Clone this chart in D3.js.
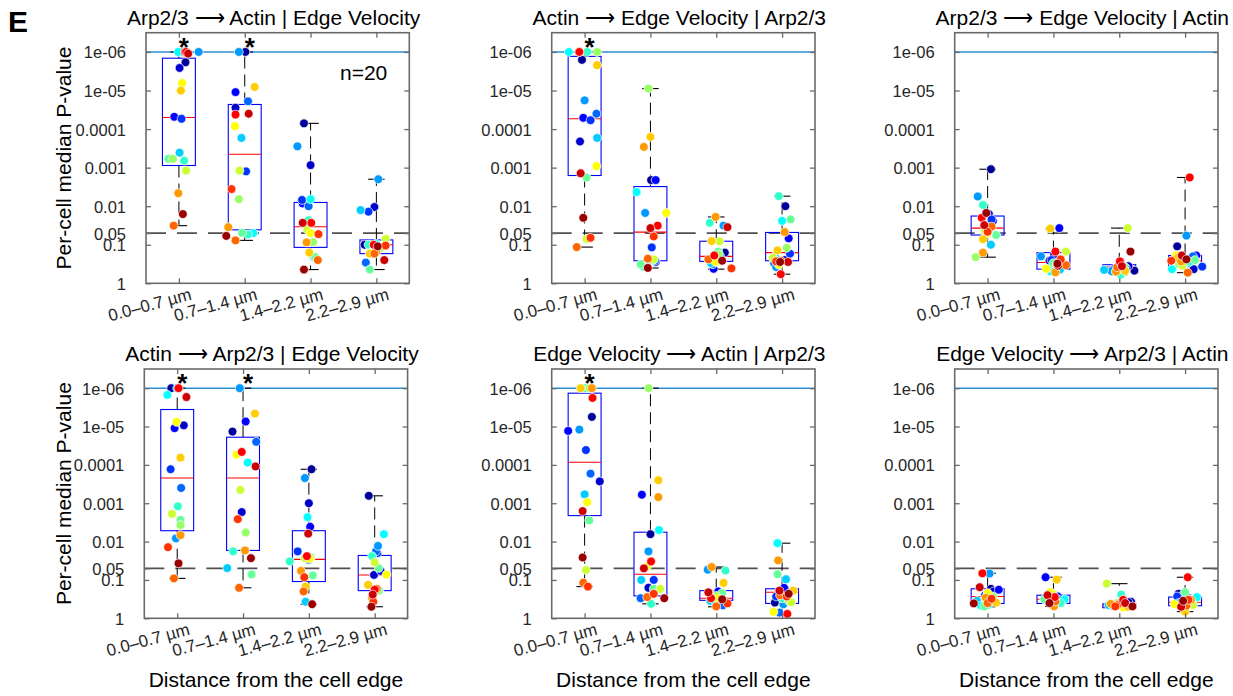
<!DOCTYPE html>
<html>
<head>
<meta charset="utf-8">
<script src="https://cdn.jsdelivr.net/npm/d3@7"></script>
<style>
  html, body { margin: 0; padding: 0; background: #fff; }
  svg { display: block; font-family: "Liberation Sans", Arial, Helvetica, sans-serif; }
</style>
</head>
<body>
<svg id="fig" width="1233" height="696"></svg>
<script>
// ---------- shared labels ----------
const categories = ["0.0\u20130.7 \u00b5m", "0.7\u20131.4 \u00b5m", "1.4\u20132.2 \u00b5m", "2.2\u20132.9 \u00b5m"];
const yTickValues = [1e-6, 1e-5, 1e-4, 1e-3, 0.01, 0.05, 0.1, 1];
const yTickLabels = ["1e-06", "1e-05", "0.0001", "0.001", "0.01", "0.05", "0.1", "1"];
const pFloor = 1e-6;          // p-values at or below this are plotted on the floor line
const alpha = 0.05;           // significance threshold
const nCells = 20;

// one colour per cell (jet, 20 levels)
const cellColors = ["#000099","#0000cc","#0000ff","#0033ff","#0066ff","#0099ff","#00ccff","#00ffff",
  "#33ffcc","#66ff99","#99ff66","#ccff33","#ffff00","#ffcc00","#ff9900","#ff6600","#ff3300",
  "#ff0000","#cc0000","#990000"];

// ---------- per-cell median p-values: [distance bin][cell 1..20] ----------
const pArpActinEV = [
  [1.85e-6,2.6e-6,4.8e-5,5.4e-5,1e-6,1e-6,4.1e-4,1e-6,6.6e-4,5.9e-4,5.9e-4,1.2e-3,6.4e-6,1.0e-5,4.6e-3,0.032,1e-6,1e-6,1.1e-6,0.016],
  [1e-6,2.8e-5,1.1e-5,1.25e-3,1.9e-5,1e-6,1.7e-4,0.05,0.054,0.049,6.6e-3,1.2e-3,8.4e-5,8.1e-6,0.035,0.077,3.6e-3,4.2e-5,4.0e-5,0.059],
  [7.1e-5,8.6e-4,8.5e-3,6.9e-3,0.010,2.8e-4,0.21,6.6e-3,0.023,0.21,0.086,0.040,0.050,0.16,0.087,0.25,0.053,0.027,0.027,0.44],
  [0.10,0.0105,0.10,0.0139,0.29,2.0e-3,0.0126,0.095,0.10,0.44,0.12,0.070,0.16,0.17,0.15,0.17,0.105,0.10,0.25,0.11]
];
const pActinEVArp = [
  [1.6e-6,2.1e-4,5.1e-5,5.9e-5,4.0e-5,1.8e-5,1.7e-4,1e-6,1e-6,1.8e-3,1e-6,0.071,9.1e-4,2.2e-6,1e-6,0.115,0.066,1e-6,1.4e-3,0.020],
  [2.1e-3,0.28,2.1e-3,0.117,0.26,0.015,0.25,4.3e-3,0.37,0.32,8.9e-6,0.24,0.015,1.6e-4,2.9e-4,0.23,0.061,0.032,0.037,0.40],
  [0.16,0.25,0.42,0.20,0.32,0.032,0.30,0.22,0.027,0.15,0.18,0.082,0.28,0.080,0.019,0.24,0.41,0.19,0.035,0.26],
  [0.010,0.25,0.068,0.17,0.30,0.38,0.20,0.024,5.5e-3,0.022,0.12,0.22,0.33,0.14,0.047,0.26,0.27,0.58,0.28,0.28]
];
const pArpEVActin = [
  [1.1e-3,0.016,0.024,0.022,0.040,5.6e-3,0.10,0.045,9.3e-3,0.056,0.21,0.045,0.050,0.072,0.16,0.034,0.046,0.020,0.031,0.015],
  [0.26,0.18,0.037,0.25,0.30,0.20,0.44,0.49,0.40,0.30,0.33,0.15,0.42,0.038,0.52,0.34,0.24,0.15,0.35,0.31],
  [0.47,0.36,0.40,0.42,0.44,0.48,0.45,0.46,0.60,0.38,0.50,0.037,0.41,0.48,0.50,0.38,0.33,0.27,0.36,0.15],
  [0.11,0.43,0.19,0.37,0.20,0.058,0.30,0.43,0.28,0.25,0.32,0.35,0.19,0.22,0.27,0.53,0.26,1.8e-3,0.19,0.24]
];
const pActinArpEV = [
  [1e-6,9.3e-6,1.1e-5,1.3e-4,4.0e-4,8.2e-3,1e-6,1.5e-6,1.2e-3,2.7e-3,3.7e-3,1.9e-3,7.6e-6,6.5e-5,6.8e-3,0.091,0.014,1e-6,1.7e-6,0.037],
  [1.35e-5,1.7e-3,7.4e-6,1e-6,2.5e-5,1e-6,0.049,8.7e-5,0.018,0.072,5.8e-3,4.5e-4,5.4e-5,4.6e-6,0.017,0.16,2.6e-3,4.6e-5,1.1e-4,0.027],
  [1.3e-4,1.0e-3,4.1e-3,0.018,0.030,2.2e-4,0.37,2.3e-3,0.033,0.076,0.026,0.027,0.028,0.15,0.058,0.20,0.085,0.024,6.2e-3,0.43],
  [6.4e-4,0.074,0.058,0.020,0.018,0.013,0.19,6.4e-3,0.024,0.049,0.19,0.035,0.073,0.135,0.30,0.17,0.37,0.18,0.24,0.50]
];
const pEVActinArp = [
  [5.6e-6,2.7e-4,1.3e-5,4.1e-5,1.7e-4,1.2e-5,5.9e-4,1e-6,1e-6,2.8e-3,1e-6,0.055,9.4e-4,1e-6,1e-6,0.118,0.149,1.8e-6,1.6e-3,0.026],
  [6.4e-3,0.16,6.0e-4,0.10,0.30,0.018,0.10,5.0e-3,0.42,0.17,1e-6,0.17,0.044,2.5e-4,6.9e-4,0.28,0.23,0.033,0.050,0.30],
  [0.22,0.25,0.20,0.28,0.46,0.054,0.35,0.33,0.057,0.22,0.26,0.21,0.30,0.12,0.046,0.49,0.41,0.30,0.21,0.32],
  [0.39,0.18,0.16,0.27,0.71,0.43,0.096,0.011,0.30,0.071,0.35,0.38,0.68,0.19,0.031,0.25,0.27,0.77,0.19,0.23]
];
const pEVArpActin = [
  [0.17,0.20,0.18,0.25,0.30,0.068,0.35,0.47,0.45,0.49,0.27,0.25,0.22,0.39,0.29,0.40,0.31,0.067,0.155,0.41],
  [0.26,0.30,0.085,0.27,0.38,0.33,0.42,0.32,0.40,0.32,0.36,0.22,0.21,0.098,0.49,0.36,0.30,0.28,0.25,0.40],
  [0.37,0.38,0.43,0.46,0.41,0.47,0.45,0.45,0.24,0.35,0.40,0.125,0.52,0.50,0.42,0.44,0.49,0.33,0.40,0.49],
  [0.23,0.26,0.29,0.27,0.30,0.36,0.40,0.28,0.38,0.21,0.42,0.45,0.43,0.67,0.33,0.47,0.33,0.085,0.50,0.35]
];

// ---------- horizontal spread of each cell's dot within its bin (bin units) ----------
const jArpActinEV = [
  [.10,.01,-.07,.04,.07,.30,.01,-.01,.08,-.16,-.09,.11,.05,.03,-.01,-.08,.09,.11,.14,.06],
  [.01,-.14,-.14,.02,.05,-.09,-.05,.13,.05,-.04,-.09,-.08,-.15,.15,-.25,-.14,-.20,-.14,.06,-.28],
  [-.10,0,-.12,-.13,-.03,-.20,.05,0,-.03,.07,.04,-.05,0,-.02,-.06,.11,.12,.01,-.12,-.10],
  [-.18,-.03,-.10,-.12,-.16,.03,-.24,0,-.12,-.10,.06,.14,-.08,-.10,0,-.03,.14,-.04,.12,.02]
];
const jActinEVArp = [
  [-.04,-.07,-.02,.09,.18,0,.19,-.24,.04,.03,.19,.03,.18,.19,-.08,-.12,.09,-.08,-.06,-.02],
  [.01,.08,.08,.02,.07,-.08,.04,-.21,-.11,-.15,-.03,.05,.24,0,-.10,-.04,.05,.11,0,-.04],
  [.13,.08,-.04,.06,-.05,.11,-.08,.02,-.10,.03,.04,.05,-.01,-.07,-.01,-.12,.23,-.03,.17,.09],
  [.05,.04,.10,.12,-.12,-.09,-.11,0,-.05,.13,.07,-.14,-.05,-.07,.04,-.02,-.09,-.02,.09,-.03]
];
const jArpEVActin = [
  [.05,.02,.08,.06,-.03,-.15,.05,.02,-.07,.13,-.18,-.04,0,-.07,-.07,.06,0,-.09,-.05,-.02],
  [-.06,.01,.09,-.03,.08,-.19,.10,-.04,-.02,0,.05,.19,-.11,-.05,.03,.19,.11,.03,.07,.06],
  [.23,.14,.10,-.08,.06,-.12,-.23,-.02,.02,.08,-.05,.13,0,.09,-.05,-.03,.03,.01,.04,.17],
  [-.12,.13,.17,.26,.12,.02,0,-.20,.07,.15,-.09,-.04,-.14,-.12,-.06,.04,-.21,.07,-.05,.02]
];
const jActinArpEV = [
  [-.09,.10,-.04,-.10,.06,-.02,0,-.15,.01,.05,.05,-.08,-.01,.05,.05,-.05,-.14,.02,.14,.02],
  [-.16,-.02,.04,-.05,.20,-.05,-.24,.07,-.15,.13,.04,-.04,-.10,.18,.03,-.06,-.08,-.02,.19,.12],
  [.04,0,.02,-.17,0,-.06,-.05,-.02,-.29,.06,.03,-.06,.01,-.05,-.12,-.08,-.07,-.03,-.01,.05],
  [-.09,-.01,.09,.04,.02,.05,.07,.14,-.04,.06,.06,0,.18,-.10,-.04,.03,-.02,0,-.03,-.05]
];
const jEVActinArp = [
  [.11,.23,-.25,.02,.09,-.08,0,.02,0,.07,.07,.02,.04,-.06,.11,-.02,.05,.12,-.03,-.03],
  [0,-.03,-.13,.05,-.15,-.03,-.14,.13,.01,.05,-.03,.15,-.05,.12,.12,-.05,.05,.01,-.10,.21],
  [.02,-.04,.03,.06,.10,-.13,-.09,-.03,.14,.09,0,-.11,.02,.11,-.07,0,.17,-.08,-.12,.09],
  [-.11,.05,.03,-.09,-.04,.02,.06,-.07,0,-.07,.10,.14,-.13,.17,-.06,-.03,.07,.08,-.04,.10]
];
const jEVArpActin = [
  [.05,.09,.17,-.04,.04,.03,-.16,-.10,.01,-.05,.08,0,0,.13,-.03,0,.06,-.08,-.12,-.21],
  [.04,.05,-.12,.07,.08,.08,-.03,.17,.11,-.14,0,-.02,-.05,.05,.01,.03,-.04,.02,-.09,-.06],
  [.18,.14,.10,-.08,.04,-.10,-.16,0,.03,.05,-.03,-.19,.06,.13,-.13,-.02,-.06,.06,.09,.20],
  [-.10,-.05,-.08,-.12,.06,.10,-.10,.18,0,0,.07,.12,-.16,0,.09,.02,.05,.04,-.06,-.03]
];

// ---------- box-plot summaries per bin: [upper whisker, box top, median, box bottom, lower whisker] (p) ----------
const boxArpActinEV = [[1e-6,1.45e-6,5.0e-5,8.8e-4,0.032],[1e-6,2.3e-5,4.5e-4,0.041,0.077],[7.1e-5,8.0e-3,0.034,0.117,0.44],[2.0e-3,0.075,0.10,0.17,0.44]];
const boxActinEVArp = [[1e-6,1.3e-6,5.4e-5,1.6e-3,0.115],[8.9e-6,3.1e-3,0.047,0.26,0.40],[0.019,0.081,0.20,0.27,0.43],[5.5e-3,0.048,0.16,0.26,0.58]];
const boxArpEVActin = [[1.1e-3,0.018,0.037,0.056,0.21],[0.038,0.16,0.29,0.43,0.52],[0.037,0.33,0.38,0.44,0.60],[1.8e-3,0.19,0.26,0.37,0.53]];
const boxActinArpEV = [[1e-6,3.6e-6,2.2e-4,5.2e-3,0.091],[1e-6,1.9e-5,2.2e-4,0.017,0.16],[1.3e-4,5.2e-3,0.029,0.11,0.43],[6.4e-4,0.023,0.074,0.19,0.50]];
const boxEVActinArp = [[1e-6,1.35e-6,8.5e-5,2.1e-3,0.149],[1e-6,5.7e-3,0.071,0.26,0.42],[0.046,0.19,0.30,0.34,0.50],[0.011,0.17,0.21,0.41,0.77]];
const boxEVArpActin = [[0.067,0.17,0.27,0.41,0.50],[0.085,0.25,0.32,0.41,0.49],[0.125,0.42,0.47,0.53,0.56],[0.085,0.28,0.38,0.47,0.67]];

// bins marked significant (*)
const starArpActinEV = [1,1,0,0];
const starActinEVArp = [1,0,0,0];
const starArpEVActin = [0,0,0,0];
const starActinArpEV = [1,1,0,0];
const starEVActinArp = [1,0,0,0];
const starEVArpActin = [0,0,0,0];

const ARROW = " \u27f6 ";
const panels = [
  {title: "Arp2/3" + ARROW + "Actin | Edge Velocity", p: pArpActinEV, j: jArpActinEV, box: boxArpActinEV, star: starArpActinEV, row: 0, col: 0},
  {title: "Actin" + ARROW + "Edge Velocity | Arp2/3", p: pActinEVArp, j: jActinEVArp, box: boxActinEVArp, star: starActinEVArp, row: 0, col: 1},
  {title: "Arp2/3" + ARROW + "Edge Velocity | Actin", p: pArpEVActin, j: jArpEVActin, box: boxArpEVActin, star: starArpEVActin, row: 0, col: 2},
  {title: "Actin" + ARROW + "Arp2/3 | Edge Velocity", p: pActinArpEV, j: jActinArpEV, box: boxActinArpEV, star: starActinArpEV, row: 1, col: 0},
  {title: "Edge Velocity" + ARROW + "Actin | Arp2/3", p: pEVActinArp, j: jEVActinArp, box: boxEVActinArp, star: starEVActinArp, row: 1, col: 1},
  {title: "Edge Velocity" + ARROW + "Arp2/3 | Actin", p: pEVArpActin, j: jEVArpActin, box: boxEVArpActin, star: starEVArpActin, row: 1, col: 2}
];

// ---------- layout ----------
const rowY = [{top: 32.7, bottom: 283.3}, {top: 369, bottom: 618.3}];
const colX = [[146, 551.7, 954.7], [144.3, 551.7, 954.7]];
const axW = 263.3;
const frameColor = "#6a6a6a";
const textColor = "#262626";

const svg = d3.select("#fig");

svg.append("text").attr("x", 8).attr("y", 32)
  .attr("font-size", 30).attr("font-weight", "bold").attr("fill", "#000").text("E");

panels.forEach(pn => {
  const left = colX[pn.row][pn.col];
  const right = left + axW;
  const {top, bottom} = rowY[pn.row];
  const x = d3.scaleLinear().domain([0.5, 4.5]).range([left, right]);
  const y = d3.scaleLog().domain([1, Math.pow(10, -6.5)]).range([bottom, top]);
  const g = svg.append("g");
  const halfBox = 0.25, halfCap = 0.125;

  // reference lines
  g.append("line").attr("x1", left).attr("x2", right).attr("y1", y(alpha)).attr("y2", y(alpha))
    .attr("stroke", "#505050").attr("stroke-width", 1.8).attr("stroke-dasharray", "20,11");
  g.append("line").attr("x1", left).attr("x2", right).attr("y1", y(pFloor)).attr("y2", y(pFloor))
    .attr("stroke", "#2b8fd3").attr("stroke-width", 1.4);

  // box plots
  pn.box.forEach((b, i) => {
    const c = i + 1;
    const bg = g.append("g");
    // whiskers
    bg.append("line").attr("x1", x(c)).attr("x2", x(c)).attr("y1", y(b[1])).attr("y2", y(b[0]))
      .attr("stroke", "#000").attr("stroke-width", 1).attr("stroke-dasharray", "12,6");
    bg.append("line").attr("x1", x(c)).attr("x2", x(c)).attr("y1", y(b[3])).attr("y2", y(b[4]))
      .attr("stroke", "#000").attr("stroke-width", 1).attr("stroke-dasharray", "12,6");
    [b[0], b[4]].forEach(v => {
      bg.append("line").attr("x1", x(c - halfCap)).attr("x2", x(c + halfCap)).attr("y1", y(v)).attr("y2", y(v))
        .attr("stroke", "#000").attr("stroke-width", 1.1);
    });
    // box
    bg.append("rect").attr("x", x(c - halfBox)).attr("width", x(c + halfBox) - x(c - halfBox))
      .attr("y", y(b[1])).attr("height", y(b[3]) - y(b[1]))
      .attr("fill", "none").attr("stroke", "#0000ff").attr("stroke-width", 1.1);
    // median
    bg.append("line").attr("x1", x(c - halfBox)).attr("x2", x(c + halfBox)).attr("y1", y(b[2])).attr("y2", y(b[2]))
      .attr("stroke", "#ff0000").attr("stroke-width", 1.1);
  });

  // per-cell dots
  const dots = [];
  pn.p.forEach((vals, i) => vals.forEach((v, k) => dots.push({bin: i + 1, cell: k, p: Math.max(v, pFloor), dx: pn.j[i][k]})));
  g.append("g").selectAll("circle").data(dots).join("circle")
    .attr("cx", d => x(d.bin + d.dx)).attr("cy", d => y(d.p)).attr("r", 4.4)
    .attr("fill", d => cellColors[d.cell]).attr("stroke", "#fff").attr("stroke-width", 0.7);

  // frame
  g.append("rect").attr("x", left).attr("y", top).attr("width", axW).attr("height", bottom - top)
    .attr("fill", "none").attr("stroke", frameColor).attr("stroke-width", 1.6);

  // axes (ticks point inwards)
  const styleAxis = sel => {
    sel.select(".domain").remove();
    sel.selectAll(".tick line").attr("stroke", frameColor).attr("stroke-width", 1.3);
    sel.selectAll(".tick text").attr("fill", textColor).attr("font-size", 16.5)
      .attr("font-family", "Liberation Sans, Arial, sans-serif");
  };
  g.append("g").attr("transform", `translate(${left},0)`)
    .call(d3.axisLeft(y).tickValues(yTickValues).tickFormat((d, i) => yTickLabels[i])
      .tickSizeInner(-5).tickSizeOuter(0).tickPadding(20))
    .call(styleAxis)
    .selectAll(".tick text").attr("dy", "0.36em");
  g.append("g").attr("transform", `translate(${right},0)`)
    .call(d3.axisRight(y).tickValues(yTickValues).tickFormat("").tickSizeInner(-5).tickSizeOuter(0))
    .call(styleAxis);
  g.append("g").attr("transform", `translate(0,${top})`)
    .call(d3.axisTop(x).tickValues([1, 2, 3, 4]).tickFormat("").tickSizeInner(-5).tickSizeOuter(0))
    .call(styleAxis);
  g.append("g").attr("transform", `translate(0,${bottom})`)
    .call(d3.axisBottom(x).tickValues([1, 2, 3, 4]).tickFormat((d, i) => categories[i])
      .tickSizeInner(-5).tickSizeOuter(0))
    .call(styleAxis)
    .selectAll(".tick text")
      .attr("x", 0).attr("y", 0).attr("dy", 0)
      .attr("font-size", 17)
      .attr("text-anchor", "end")
      .attr("transform", "translate(13,16) rotate(-15)");

  // significance stars
  pn.star.forEach((s, i) => {
    if (!s) return;
    g.append("text").attr("x", x(i + 1) + 5).attr("y", top + 23)
      .attr("text-anchor", "middle").attr("font-size", 26).attr("font-weight", "bold")
      .attr("fill", "#000").text("*");
  });

  // title
  g.append("text").attr("x", (left + right) / 2 - 4).attr("y", top - 8)
    .attr("text-anchor", "middle").attr("font-size", 21).attr("fill", "#000").text(pn.title);

  if (pn.col === 0) {
    g.append("text").attr("transform", `translate(71,${(top + bottom) / 2}) rotate(-90)`)
      .attr("text-anchor", "middle").attr("font-size", 21).attr("fill", "#000").text("Per-cell median P-value");
  }
  if (pn.row === 1) {
    g.append("text").attr("x", (left + right) / 2).attr("y", 687)
      .attr("text-anchor", "middle").attr("font-size", 21).attr("fill", "#000").text("Distance from the cell edge");
  }
  if (pn.row === 0 && pn.col === 0) {
    g.append("text").attr("x", right - 22).attr("y", 80)
      .attr("text-anchor", "end").attr("font-size", 21).attr("fill", "#000").text("n=" + nCells);
  }
});
</script>
</body>
</html>
